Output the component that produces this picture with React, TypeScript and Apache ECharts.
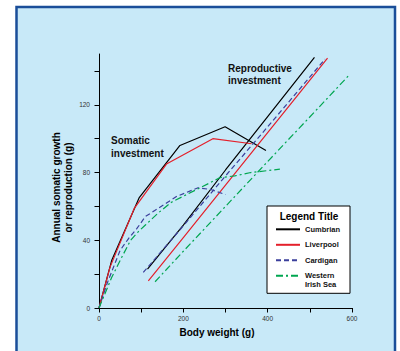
import React, { useEffect, useRef } from "react";
import * as echarts from "echarts";

const xTicks = [0, 100, 200, 300, 400, 500, 600];
const xLabels = [0, 200, 400, 600];
const yTicks = [0, 20, 40, 60, 80, 100, 120, 140];
const yLabels = [0, 40, 80, 120];

const populations = ["Cumbrian", "Liverpool", "Cardigan", "Western Irish Sea"];
const colors = ["#000000", "#e4202b", "#3b3f9c", "#00a650"];
const lineTypes: any[] = ["solid", "solid", [5, 3], [7, 3, 2, 3]];

const cumbrianSomatic = [[0, 0], [30, 28], [95, 65], [192, 96], [299, 107], [396, 93]];
const liverpoolSomatic = [[0, 0], [26, 24], [84, 59], [160, 85], [270, 100], [362, 97]];
const cardiganSomatic = [[0, 0], [20, 15], [50, 34], [70, 41], [90, 47], [110, 54], [135, 58], [160, 62], [185, 66], [205, 68], [235, 71], [265, 70], [300, 67]];
const westernSomatic = [[0, 0], [30, 18], [54, 30], [75, 40], [93, 45], [110, 49], [140, 56], [172, 62.5], [196, 65.5], [240, 71], [287, 77], [322, 78], [360, 80], [429, 82]];

const cumbrianReproductive = [[115, 23], [200, 49], [300, 81.5], [400, 113], [511, 148]];
const liverpoolReproductive = [[117, 16], [200, 41.5], [300, 72.5], [400, 103.5], [542, 147.5]];
const cardiganReproductive = [[105, 21], [200, 48.5], [300, 78], [400, 107], [536, 147]];
const westernReproductive = [[133, 15.5], [200, 33.5], [300, 60], [400, 86.5], [512, 116], [591, 137]];

const somatic = [cumbrianSomatic, liverpoolSomatic, cardiganSomatic, westernSomatic];
const reproductive = [cumbrianReproductive, liverpoolReproductive, cardiganReproductive, westernReproductive];

const FONT = "Liberation Sans, Arial, sans-serif";

export default function App() {
  const ref = useRef<HTMLDivElement>(null);
  useEffect(() => {
    if (!ref.current) return;
    const chart = echarts.init(ref.current, undefined, { renderer: "svg" });
    const series: any[] = [];
    populations.forEach((name, i) => {
      [somatic[i], reproductive[i]].forEach((data) => {
        series.push({
          type: "line",
          name,
          data,
          symbol: "none",
          color: colors[i],
          lineStyle: { color: colors[i], width: 1.2, type: lineTypes[i] },
          animation: false,
        });
      });
    });
    chart.setOption({
      animation: false,
      backgroundColor: "#ffffff",
      textStyle: { fontFamily: FONT },
      grid: { left: 99, right: 48, top: 54, bottom: 43 },
      xAxis: {
        type: "value",
        min: 0,
        max: 600,
        interval: 100,
        axisLine: { show: true, lineStyle: { color: "#000", width: 1 } },
        axisTick: { show: true, length: 4.5, customValues: xTicks, lineStyle: { color: "#000" } },
        axisLabel: { customValues: xLabels, margin: 7, fontSize: 6.5, color: "#333", fontFamily: FONT },
        splitLine: { show: false },
        name: "Body weight (g)",
        nameLocation: "middle",
        nameGap: 19,
        nameTextStyle: { fontWeight: "bold", fontSize: 10, color: "#000", fontFamily: FONT, padding: [0, 17, 0, 0] },
      },
      yAxis: {
        type: "value",
        min: 0,
        max: 150,
        axisLine: { show: true, lineStyle: { color: "#000", width: 1 } },
        axisTick: { show: true, length: 4.5, customValues: yTicks, lineStyle: { color: "#000" } },
        axisLabel: { customValues: yLabels, margin: 9, fontSize: 6.5, color: "#333", fontFamily: FONT },
        splitLine: { show: false },
      },
      legend: {
        orient: "vertical",
        left: 267,
        top: 206,
        padding: [9.7, 10, 3.9, 7.4],
        backgroundColor: "#ffffff",
        borderColor: "#000",
        borderWidth: 1,
        itemWidth: 24,
        itemHeight: 34,
        itemGap: -11.7,
        selectedMode: false,
        itemStyle: { opacity: 0 },
        textStyle: { fontFamily: FONT, fontWeight: "bold", fontSize: 7.5, lineHeight: 9, color: "#111" },
        formatter: (n: string) => (n === "Western Irish Sea" ? " \nWestern\nIrish Sea" : n),
        data: ["Cumbrian", "Liverpool", "Cardigan", "Western Irish Sea"],
      },
      graphic: [
        {
          type: "rect",
          z: 0,
          silent: true,
          shape: { x: 16.5, y: 7, width: 378.5, height: 360 },
          style: { fill: "#c8e9f8", stroke: "#1a4e99", lineWidth: 2.5 },
        },
        {
          type: "text",
          z: 100,
          x: 62,
          y: 187.5,
          rotation: Math.PI / 2,
          style: {
            text: "Annual somatic growth\nor reproduction (g)",
            fontFamily: FONT,
            fontWeight: "bold",
            fontSize: 10,
            lineHeight: 12,
            fill: "#000",
            align: "center",
            verticalAlign: "middle",
          },
        },
        {
          type: "text",
          z: 100,
          x: 309,
          y: 216,
          style: { text: "Legend Title", fontFamily: FONT, fontWeight: "bold", fontSize: 10, fill: "#000", align: "center", verticalAlign: "middle" },
        },
        {
          type: "text",
          z: 100,
          x: 111,
          y: 134.5,
          style: { text: "Somatic\ninvestment", fontFamily: FONT, fontWeight: "bold", fontSize: 10, lineHeight: 12.5, fill: "#111", align: "left", verticalAlign: "top" },
        },
        {
          type: "text",
          z: 100,
          x: 228,
          y: 62,
          style: { text: "Reproductive\ninvestment", fontFamily: FONT, fontWeight: "bold", fontSize: 10, lineHeight: 12.5, fill: "#111", align: "left", verticalAlign: "top" },
        },
      ],
      series,
    });
    return () => chart.dispose();
  }, []);
  return <div ref={ref} style={{ position: "fixed", left: 0, top: 0, width: 400, height: 351 }} />;
}
